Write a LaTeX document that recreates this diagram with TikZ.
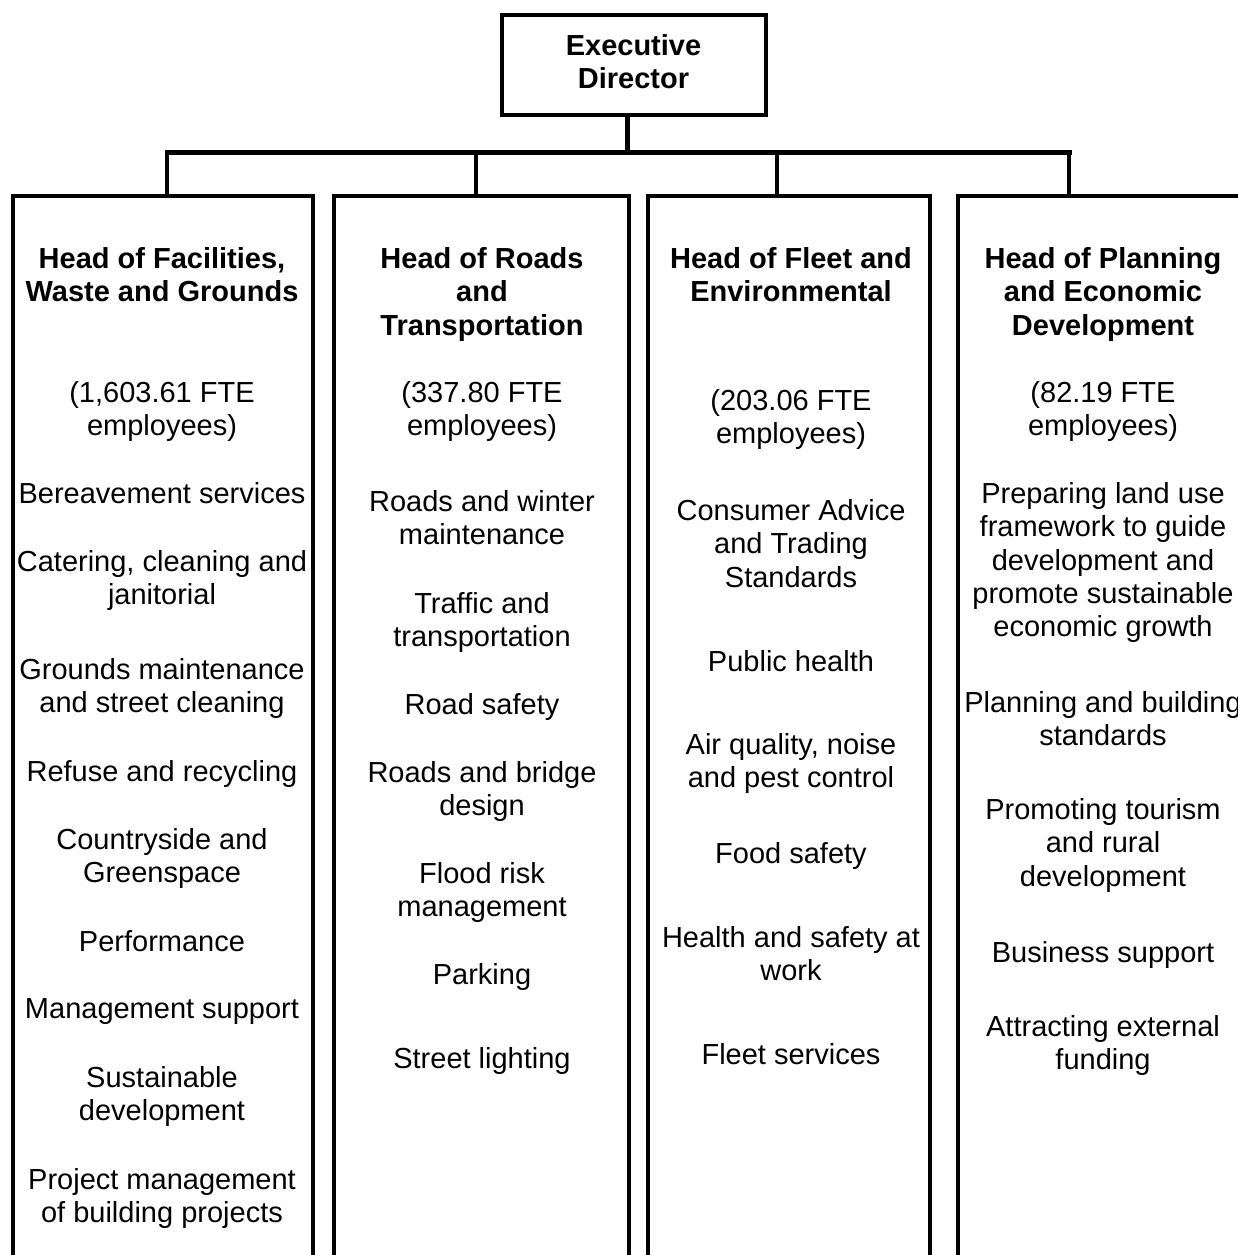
\documentclass[tikz,border=0pt]{standalone}
\usepackage{fontspec}
\setmainfont{Liberation Sans}
\begin{document}
\begin{tikzpicture}[x=1pt,y=-1pt,
  colbox/.style={draw,line width=3.5pt,minimum height=1200pt,anchor=north,inner sep=0pt},
  execbox/.style={draw,line width=4pt,minimum width=264pt,minimum height=100pt,inner sep=0pt},
  txt/.style={font=\fontsize{29pt}{33.4pt}\selectfont,align=center,inner sep=0pt,anchor=north},
  hd/.style={txt,font=\fontsize{29pt}{33.4pt}\selectfont\bfseries},
  bus/.style={line width=5pt,line cap=rect},
  drop/.style={line width=4.5pt}]
\useasboundingbox (0,0) rectangle (1238,1255);
\fill[white] (0,0) rectangle (1238,1255);
\clip (0,0) rectangle (1238,1255);

% executive
\node[execbox] (ed) at (633.5,65) {};
\node[hd] (edt) at (633.5,34) {Executive\\Director};

% column boxes
\node[colbox,minimum width=300pt] (fac) at (163,194) {};
\node[colbox,minimum width=295pt] (rd) at (481.5,194) {};
\node[colbox,minimum width=282pt] (fl) at (789,194) {};
\node[colbox,minimum width=292pt] (pl) at (1104,194) {};

% connectors
\coordinate (busL) at (167,152);
\coordinate (busR) at (1069,152);
\coordinate (j2) at (476,152);
\coordinate (j3) at (777,152);
\draw[drop] ([xshift=-6pt]ed.south) -- ([xshift=-6pt]ed.south |- busL);
\draw[bus] (busL) -- (busR);
\draw[drop] (busL) -- (busL |- fac.north);
\draw[drop] (j2) -- (j2 |- rd.north);
\draw[drop] (j3) -- (j3 |- fl.north);
\draw[drop] (busR) -- (busR |- pl.north);

% column 1
\node[hd]  (a0) at (162,247) {Head of Facilities,\\Waste and Grounds};
\node[txt] (a1) at (162,381) {(1,603.61 FTE\\employees)};
\node[txt] (a2) at (162,482) {Bereavement services};
\node[txt] (a3) at (162,550) {Catering, cleaning and\\janitorial};
\node[txt] (a4) at (162,658) {Grounds maintenance\\and street cleaning};
\node[txt] (a5) at (162,760) {Refuse and recycling};
\node[txt] (a6) at (162,828) {Countryside and\\Greenspace};
\node[txt] (a7) at (162,930) {Performance};
\node[txt] (a8) at (162,998) {Management support};
\node[txt] (a9) at (162,1066) {Sustainable\\development};
\node[txt] (a10) at (162,1168) {Project management\\of building projects};

% column 2
\node[hd]  (b0) at (482,247) {Head of Roads\\and\\Transportation};
\node[txt] (b1) at (482,381) {(337.80 FTE\\employees)};
\node[txt] (b2) at (482,490) {Roads and winter\\maintenance};
\node[txt] (b3) at (482,592) {Traffic and\\transportation};
\node[txt] (b4) at (482,693) {Road safety};
\node[txt] (b5) at (482,761) {Roads and bridge\\design};
\node[txt] (b6) at (482,862) {Flood risk\\management};
\node[txt] (b7) at (482,963) {Parking};
\node[txt] (b8) at (482,1047) {Street lighting};

% column 3
\node[hd]  (c0) at (791,247) {Head of Fleet and\\Environmental};
\node[txt] (c1) at (791,389) {(203.06 FTE\\employees)};
\node[txt] (c2) at (791,499) {Consumer Advice\\and Trading\\Standards};
\node[txt] (c3) at (791,650) {Public health};
\node[txt] (c4) at (791,733) {Air quality, noise\\and pest control};
\node[txt] (c5) at (791,842) {Food safety};
\node[txt] (c6) at (791,926) {Health and safety at\\work};
\node[txt] (c7) at (791,1043) {Fleet services};

% column 4
\node[hd]  (d0) at (1103,247) {Head of Planning\\and Economic\\Development};
\node[txt] (d1) at (1103,381) {(82.19 FTE\\employees)};
\node[txt] (d2) at (1103,482) {Preparing land use\\framework to guide\\development and\\promote sustainable\\economic growth};
\node[txt] (d3) at (1103,691) {Planning and building\\standards};
\node[txt] (d4) at (1103,798) {Promoting tourism\\and rural\\development};
\node[txt] (d5) at (1103,941) {Business support};
\node[txt] (d6) at (1103,1015) {Attracting external\\funding};
\end{tikzpicture}
\end{document}
